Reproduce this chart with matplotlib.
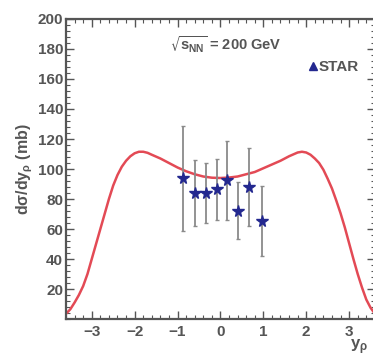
import matplotlib
matplotlib.use('Agg')
import matplotlib.pyplot as plt
from matplotlib.ticker import MultipleLocator
from matplotlib.lines import Line2D

# model curve
curve_x = [-3.6, -3.5, -3.4, -3.3, -3.2, -3.1, -3.0, -2.9, -2.8, -2.7, -2.6, -2.5,
           -2.4, -2.3, -2.2, -2.1, -2.0, -1.9, -1.8, -1.7, -1.6, -1.4, -1.2, -1.0,
           -0.8, -0.6, -0.4, -0.2, 0.0, 0.2, 0.4, 0.6, 0.8, 1.0, 1.2, 1.4, 1.6,
           1.8, 1.9, 2.0, 2.1, 2.2, 2.3, 2.4, 2.5, 2.6, 2.7, 2.8, 2.9, 3.0, 3.1,
           3.2, 3.3, 3.4, 3.5, 3.6]
curve_y = [3.5, 6.5, 11, 16, 22, 30, 40, 50, 60, 70, 80, 89,
           96, 101.5, 105.5, 108.5, 110.5, 111.5, 111.5, 110.8, 109.5, 107, 104, 101,
           98.5, 96.5, 95, 94.2, 94, 94.3, 95, 96.5, 98, 100.5, 103, 105.5, 108.5,
           111, 111.5, 111, 109.5, 107, 104, 99.5, 93.5, 87, 79, 70.5, 61, 50.5, 40,
           30, 21, 13, 7.5, 3.5]

# STAR data
star_x = [-0.87, -0.59, -0.33, -0.07, 0.16, 0.42, 0.66, 0.96]
star_y = [93.8, 84.2, 83.8, 86.4, 92.4, 72.2, 88.2, 65.3]
star_err = [35, 22, 20, 20.5, 26.5, 19, 26, 23.5]

grey = '#555555'
plt.rcParams['font.family'] = ['Liberation Sans', 'DejaVu Sans']
plt.rcParams['font.weight'] = 'bold'
plt.rcParams['mathtext.default'] = 'regular'

fig = plt.figure(figsize=(3.73, 3.57), dpi=100)
ax = fig.add_axes([0.177, 0.1064, 0.828, 0.8404])

ax.plot(curve_x, curve_y, color='#e34a55', lw=1.8, zorder=2)
ax.errorbar(star_x, star_y, yerr=star_err, fmt='none', ecolor='#8a8a8a',
            elinewidth=1.3, capsize=1.5, capthick=1, zorder=3)
ax.plot(star_x, star_y, ls='none', marker='*', ms=8.5, color='#23288f',
        markeredgecolor='#23288f', zorder=4)

ax.set_xlim(-3.6, 3.6)
ax.set_ylim(0, 200)
ax.xaxis.set_major_locator(MultipleLocator(1))
ax.xaxis.set_minor_locator(MultipleLocator(0.2))
ax.yaxis.set_minor_locator(MultipleLocator(4))
ax.set_yticks([20, 40, 60, 80, 100, 120, 140, 160, 180, 200])
ax.tick_params(which='both', direction='in', top=True, right=True, colors=grey,
               labelsize=11, pad=2)
ax.tick_params(which='major', length=6, width=1)
ax.tick_params(which='minor', length=3, width=0.8)
ax.tick_params(axis='x', pad=4)
for s in ax.spines.values():
    s.set_color(grey)
    s.set_linewidth(1.6)

for lab in ax.get_xticklabels() + ax.get_yticklabels():
    lab.set_fontweight('bold')

ax.set_ylabel(r'd$\sigma$/dy$_{\rho}$ (mb)', color=grey, fontsize=11.5,
              fontweight='bold', labelpad=2)
fig.text(0.962, 0.054, r'y$_{\rho}$', color=grey, fontsize=12, fontweight='bold',
         ha='center', va='top')

ax.text(-1.17, 183, r'$\sqrt{s_{NN}}$ = 200 GeV', color=grey, fontsize=10.5,
        fontweight='bold', va='center', ha='left')

handle = Line2D([], [], ls='none', marker='^', ms=6, color='#23288f')
ax.legend([handle], ['STAR'], loc='center left', bbox_to_anchor=(0.74, 0.84),
          frameon=False, handlelength=0.6, handletextpad=0.1,
          prop={'weight': 'bold', 'size': 11}, labelcolor=grey)

fig.savefig('out.png', dpi=100)
